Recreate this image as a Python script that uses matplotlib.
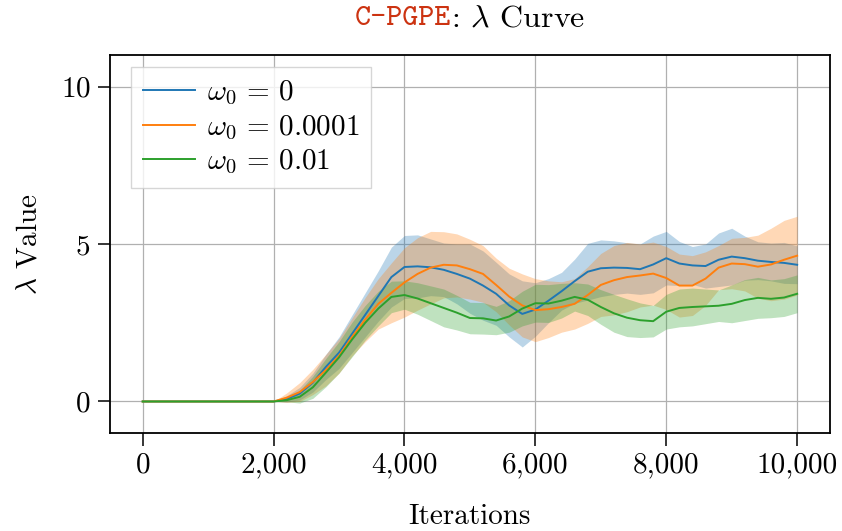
import matplotlib
matplotlib.use("Agg")
import matplotlib.pyplot as plt
from matplotlib.ticker import FuncFormatter
import numpy as np

plt.rcParams["font.family"] = "serif"
plt.rcParams["font.serif"] = ["cmr10", "DejaVu Serif"]
plt.rcParams["mathtext.fontset"] = "cm"
plt.rcParams["axes.formatter.use_mathtext"] = True

iters = [0, 1000, 2000, 2200, 2400, 2600, 2800, 3000, 3200, 3400, 3600, 3800,
         4000, 4200, 4400, 4600, 4800, 5000, 5200, 5400, 5600, 5800, 6000,
         6200, 6400, 6600, 6800, 7000, 7200, 7400, 7600, 7800, 8000, 8200,
         8400, 8600, 8800, 9000, 9200, 9400, 9600, 9800, 10000]

labels = [r"$\omega_0\,=\,0$", r"$\omega_0\,=\,0.0001$", r"$\omega_0\,=\,0.01$"]
colors = ["#1f77b4", "#ff7f0e", "#2ca02c"]

mean_w0 = [0, 0, 0, 0.08, 0.25, 0.6, 1.1, 1.55, 2.15, 2.75, 3.35, 3.95,
           4.27, 4.29, 4.26, 4.18, 4.05, 3.9, 3.68, 3.42, 3.05, 2.78, 2.92,
           3.2, 3.5, 3.82, 4.12, 4.23, 4.25, 4.24, 4.2, 4.35, 4.55, 4.38,
           4.32, 4.3, 4.5, 4.6, 4.55, 4.47, 4.43, 4.4, 4.34]
std_w0 = [0, 0, 0, 0.1, 0.2, 0.3, 0.4, 0.5, 0.6, 0.7, 0.8, 0.95,
          1.0, 1.0, 0.9, 0.85, 0.95, 1.1, 1.1, 1.0, 1.0, 1.05, 0.85,
          0.7, 0.6, 0.7, 0.9, 0.9, 0.85, 0.8, 0.8, 0.9, 0.85, 0.7,
          0.6, 0.7, 0.85, 0.9, 0.7, 0.6, 0.6, 0.65, 0.6]

mean_w1 = [0, 0, 0, 0.12, 0.3, 0.62, 1.0, 1.45, 2.05, 2.6, 3.1, 3.45,
           3.78, 4.05, 4.25, 4.34, 4.32, 4.2, 4.05, 3.7, 3.33, 3.05, 2.9,
           2.93, 3.0, 3.1, 3.38, 3.7, 3.85, 3.95, 4.0, 4.06, 3.92, 3.68,
           3.68, 3.9, 4.25, 4.38, 4.36, 4.28, 4.35, 4.5, 4.63]
std_w1 = [0, 0, 0, 0.15, 0.3, 0.4, 0.5, 0.55, 0.6, 0.7, 0.8, 0.95,
          1.1, 1.15, 1.15, 1.05, 1.0, 0.95, 0.9, 0.85, 0.9, 1.0, 1.0,
          0.9, 0.8, 0.8, 0.9, 1.0, 1.1, 1.1, 1.0, 1.0, 1.0, 1.0,
          0.95, 0.85, 0.7, 0.8, 0.85, 1.0, 1.15, 1.25, 1.25]

mean_w2 = [0, 0, 0, 0.04, 0.15, 0.45, 0.92, 1.4, 1.97, 2.5, 2.95, 3.32,
           3.38, 3.27, 3.12, 2.97, 2.82, 2.65, 2.64, 2.57, 2.7, 2.95, 3.12,
           3.11, 3.2, 3.32, 3.23, 3.0, 2.8, 2.66, 2.58, 2.55, 2.85, 2.97,
           3.0, 3.02, 3.04, 3.1, 3.22, 3.29, 3.26, 3.3, 3.42]
std_w2 = [0, 0, 0, 0.05, 0.2, 0.35, 0.45, 0.5, 0.55, 0.55, 0.55, 0.5,
          0.45, 0.5, 0.55, 0.6, 0.55, 0.5, 0.5, 0.45, 0.5, 0.55, 0.6,
          0.6, 0.55, 0.45, 0.5, 0.55, 0.6, 0.6, 0.55, 0.5, 0.55, 0.6,
          0.6, 0.55, 0.5, 0.6, 0.65, 0.65, 0.6, 0.6, 0.6]

means = [mean_w0, mean_w1, mean_w2]
stds = [std_w0, std_w1, std_w2]

fig = plt.figure(figsize=(8.42, 5.31), dpi=100)
ax = fig.add_axes([0.1306, 0.1846, 0.855, 0.7118])

x = np.array(iters)
for m, s, c, lab in zip(means, stds, colors, labels):
    m = np.array(m)
    s = np.array(s)
    ax.fill_between(x, m - s, m + s, color=c, alpha=0.3, lw=0)
    ax.plot(x, m, color=c, lw=1.4, label=lab)

ax.set_xlim(-500, 10500)
ax.set_ylim(-1, 11)
ax.set_xticks([0, 2000, 4000, 6000, 8000, 10000])
ax.set_yticks([0, 5, 10])
ax.xaxis.set_major_formatter(FuncFormatter(lambda v, p: f"{int(v):,}"))
ax.tick_params(labelsize=21, direction="out", length=9, width=1.1, pad=5)
for sp in ax.spines.values():
    sp.set_linewidth(1.3)
ax.grid(True, color="#b0b0b0", lw=0.9)
ax.set_axisbelow(True)
ax.set_xlabel("Iterations", fontsize=21, labelpad=18)
ax.set_ylabel(r"$\lambda$ Value", fontsize=21, labelpad=13)

leg = ax.legend(loc="upper left", bbox_to_anchor=(0.029, 0.968), borderaxespad=0,
                fontsize=21, fancybox=False, framealpha=0.8,
                edgecolor="#cccccc", handlelength=1.8, borderpad=0.4,
                labelspacing=0.22, handletextpad=0.4)
leg.get_frame().set_linewidth(1.0)

t1 = ax.text(0.5, 1.06, "C-PGPE", transform=ax.transAxes, fontsize=22,
             family="cmtt10", color="#cc3311", ha="right", va="bottom")
t2 = ax.annotate(r": $\lambda$ Curve", xy=(1, 0), xycoords=t1, fontsize=23,
                 ha="left", va="bottom")
# shift the pair so the whole title is centred
fig.canvas.draw()
r = fig.canvas.get_renderer()
bb1 = t1.get_window_extent(r)
bb2 = t2.get_window_extent(r)
axbb = ax.get_window_extent(r)
width = bb2.x1 - bb1.x0
cx = (axbb.x0 + axbb.x1) / 2
shift = (cx - width / 2) - bb1.x0
t1.set_x(0.5 + shift / axbb.width)

fig.savefig("out.png", dpi=100)
